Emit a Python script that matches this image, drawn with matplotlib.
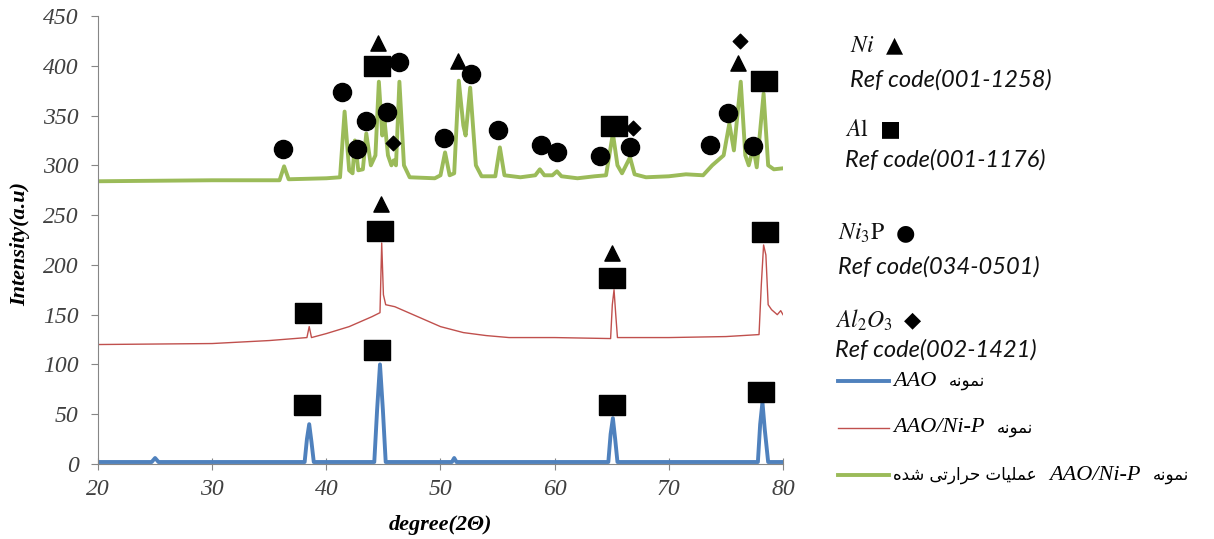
import matplotlib
matplotlib.use("Agg")
import matplotlib.pyplot as plt
from matplotlib.lines import Line2D

plt.rcParams['mathtext.fontset'] = 'stix'

# AAO sample (blue)
aao_x = [20, 24.7, 25.0, 25.3, 38.1, 38.3, 38.5, 38.7, 38.9, 44.2, 44.45, 44.7, 44.95, 45.2,
         51.0, 51.2, 51.4, 64.7, 64.9, 65.1, 65.3, 65.5, 77.8, 78.0, 78.2, 78.4, 78.7, 80]
aao_y = [2, 2, 6, 2, 2, 25, 40, 22, 2, 2, 55, 100, 55, 2,
         2, 6, 2, 2, 30, 46, 25, 2, 2, 40, 62, 35, 2, 2]

# AAO/Ni-P sample (red)
nip_x = [20, 30, 35, 38.3, 38.5, 38.7, 40, 42, 44, 44.7, 44.85, 45.0, 45.2, 46, 48, 50, 52, 54,
         56, 60, 64.9, 65.05, 65.2, 65.35, 65.5, 70, 75, 77.9, 78.1, 78.3, 78.5, 78.7, 79.0,
         79.5, 79.8, 80]
nip_y = [120, 121, 124, 127, 138, 127, 131, 138, 148, 152, 222, 170, 160, 158, 148, 138, 132, 129,
         127, 127, 126, 160, 175, 150, 127, 127, 128, 130, 180, 220, 210, 160, 155,
         150, 154, 150]

# heat treated AAO/Ni-P (green)
ht_x = [20, 30, 35.9, 36.3, 36.7, 40, 41.2, 41.6, 42.0, 42.3, 42.5, 42.8, 43.2, 43.5, 43.9,
        44.3, 44.6, 44.9, 45.1, 45.4, 45.7, 45.9, 46.1, 46.4, 46.8, 47.3, 49.5, 50.0, 50.4,
        50.8, 51.2, 51.6, 52.0, 52.2, 52.6, 53.1, 53.6, 54.8, 55.2, 55.6, 57, 58.3, 58.7, 59.1,
        59.8, 60.2, 60.6, 62, 63.5, 64.5, 65.1, 65.5, 65.9, 66.6, 67.0, 68, 70, 71.5, 73, 73.8,
        74.3, 74.8, 75.3, 75.7, 76.3, 76.7, 77.0, 77.4, 77.7, 78.3, 78.7, 79.2, 80]
ht_y = [284, 285, 285, 299, 286, 287, 288, 354, 295, 292, 325, 295, 296, 332, 300,
        310, 384, 330, 345, 310, 300, 305, 300, 384, 300, 288, 287, 290, 313,
        290, 292, 385, 340, 330, 378, 300, 289, 289, 318, 290, 288, 290, 296, 290,
        290, 294, 289, 287, 289, 290, 332, 300, 292, 308, 291, 288, 289, 291, 290, 300,
        305, 310, 342, 315, 384, 310, 300, 318, 298, 372, 300, 296, 297]

# phase markers (deg, intensity)
sq_x = [44.4, 65.2, 78.3, 38.4, 44.7, 65.0, 78.4, 38.3, 44.4, 65.0, 78.1]
sq_y = [400, 340, 385, 152, 234, 187, 233, 59, 115, 59, 72]
ci_x = [36.2, 41.4, 42.7, 43.5, 45.3, 46.4, 50.3, 52.7, 55.0, 58.8, 60.2, 64.0, 66.6, 73.6, 75.2, 77.4]
ci_y = [316, 374, 316, 345, 354, 404, 327, 392, 335, 320, 313, 309, 318, 320, 353, 319]
tr_x = [44.5, 51.5, 76.1, 44.8, 65.0]
tr_y = [423, 405, 403, 261, 212]
di_x = [45.8, 66.9, 76.2]
di_y = [322, 337, 425]

blue = '#4F81BD'
red = '#C0504D'
green = '#9BBB59'

W, H = 1214, 539
fig = plt.figure(figsize=(W / 100, H / 100), dpi=100)
ax = fig.add_axes([98 / W, 75 / H, (783 - 98) / W, (464 - 16) / H])

ax.plot(aao_x, aao_y, color=blue, lw=2.8)
ax.plot(nip_x, nip_y, color=red, lw=1.0)
ax.plot(ht_x, ht_y, color=green, lw=2.8)

rect = [(-1.3, -1), (1.3, -1), (1.3, 1), (-1.3, 1), (-1.3, -1)]
ax.scatter(sq_x, sq_y, marker=rect, s=330, color='black', zorder=5)
ax.scatter(ci_x, ci_y, marker='o', s=170, color='black', zorder=5)
ax.scatter(tr_x, tr_y, marker='^', s=120, color='black', zorder=5)
ax.scatter(di_x, di_y, marker='D', s=55, color='black', zorder=5)

ax.set_xlim(20, 80)
ax.set_ylim(0, 450)
ax.set_xticks(range(20, 81, 10))
ax.set_yticks(range(0, 451, 50))
for s in ['top', 'right']:
    ax.spines[s].set_visible(False)
for s in ['left', 'bottom']:
    ax.spines[s].set_color('#868686')
ax.tick_params(axis='y', direction='out', length=5, color='#868686', pad=9)
ax.tick_params(axis='x', direction='inout', length=8, color='#868686', pad=7)
for lab in ax.get_xticklabels() + ax.get_yticklabels():
    lab.set_fontfamily('Liberation Serif')
    lab.set_fontstyle('italic')
    lab.set_fontsize(17)
    lab.set_color('#404040')

ax.set_xlabel('degree(2Θ)', fontfamily='Liberation Serif', style='italic', weight='bold', fontsize=16)
ax.set_ylabel('Intensity(a.u)', fontfamily='Liberation Serif', style='italic', weight='bold', fontsize=16)
ax.xaxis.set_label_coords(0.5, -0.114)
ax.yaxis.set_label_coords(-0.099, 0.49)


def fx(x):
    return x / W


def fy(y):
    return 1 - y / H


serif_i = dict(fontfamily='Liberation Serif', style='italic')
sans_i = dict(fontfamily='Lato', style='italic')

# phase legend
phases = [(r'$Ni$', '▲', 850, 45, 'Ref code(001-1258)', 80),
          (r'$A\mathrm{l}$', '■', 845, 129, 'Ref code(001-1176)', 160),
          (r'$Ni_3\mathrm{P}$', '●', 838, 233, 'Ref code(034-0501)', 267),
          (r'$Al_2O_3$', '◆', 835, 320, 'Ref code(002-1421)', 350)]
for name, sym, x, y, ref, yr in phases:
    t = fig.text(fx(x), fy(y), name, fontsize=17, va='center', color='#111111')
    ax.annotate(sym, xy=(1, 0.5), xycoords=t, xytext=(8, 0), textcoords='offset points',
                va='center', fontsize=16, fontfamily='DejaVu Sans', annotation_clip=False)
    fig.text(fx(x), fy(yr), ref, fontsize=17, va='center', color='#111111', **sans_i)

# sample legend
nemune = "\uFEEA\uFEE7\uFEEE\uFEE4\uFEE7"
amaliat = "\uFE95\uFE8E\uFEF4\uFEE0\uFEE4\uFECB"
hararati = "\uFEF0\uFE97\uFEAD\uFE8D\uFEAE\uFEA3"
shode = "\uFEE9\uFEAA\uFEB7"

rows = [(blue, 2.8, 381, [('AAO', 'lat'), (nemune, 'ar')]),
        (red, 1.0, 428, [('AAO/Ni-P', 'lat'), (nemune, 'ar')]),
        (green, 2.8, 475, [(shode + ' ' + hararati + ' ' + amaliat, 'ar'), ('AAO/Ni-P', 'lat'),
                           (nemune, 'ar')])]
for col, lw, y, parts in rows:
    fig.add_artist(Line2D([fx(838), fx(889)], [fy(y), fy(y)], color=col, lw=lw))
    prev = None
    for txt, kind in parts:
        if kind == 'lat':
            kw = dict(fontsize=16, **serif_i)
        else:
            kw = dict(fontsize=12, fontfamily='DejaVu Sans')
        if prev is None:
            prev = fig.text(fx(893), fy(y), txt, va='center', **kw)
        else:
            prev = ax.annotate(txt, xy=(1, 0.5), xycoords=prev, xytext=(9, 0),
                               textcoords='offset points', va='center',
                               annotation_clip=False, **kw)

fig.savefig('out.png', dpi=100)
